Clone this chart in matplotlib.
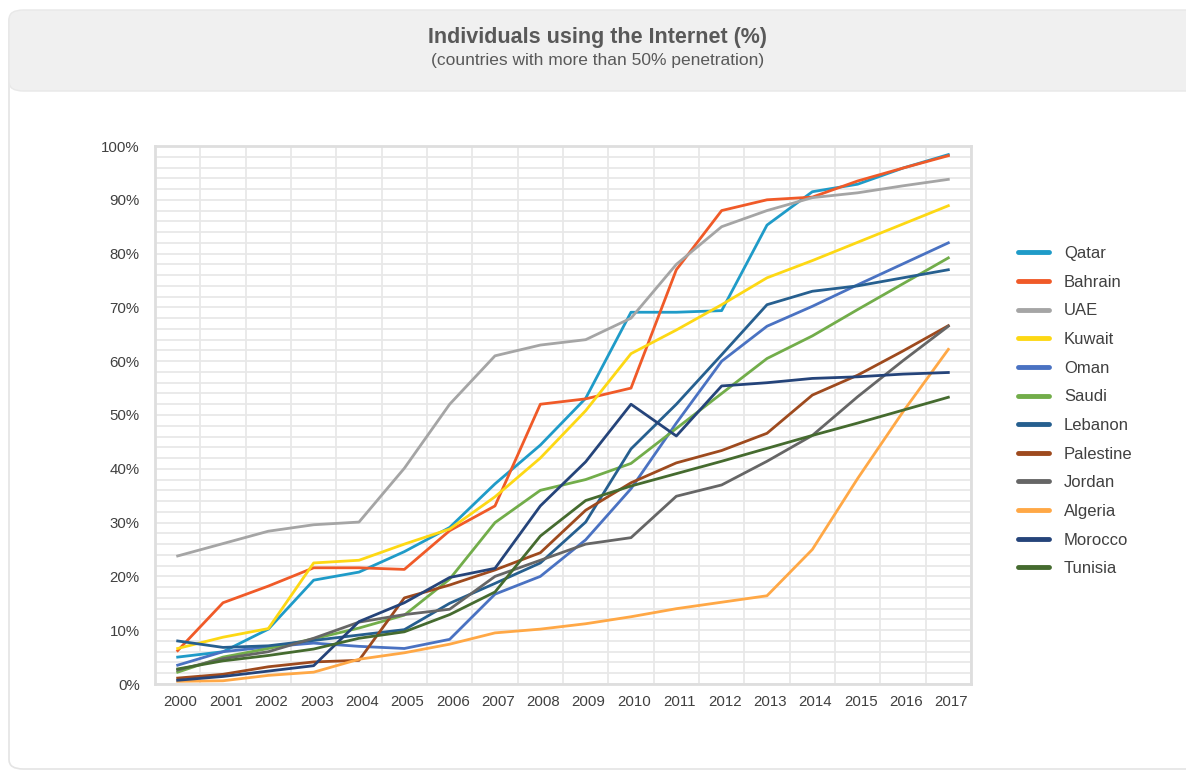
import numpy as np
import matplotlib
matplotlib.use("Agg")
import matplotlib.pyplot as plt
import matplotlib.transforms as mtransforms
from matplotlib.patches import FancyBboxPatch
from matplotlib.ticker import MultipleLocator, FuncFormatter

plt.rcParams['font.family'] = ['Liberation Sans', 'DejaVu Sans']

years = list(range(2000, 2018))

countries = ['Qatar', 'Bahrain', 'UAE', 'Kuwait', 'Oman', 'Saudi', 'Lebanon',
             'Palestine', 'Jordan', 'Algeria', 'Morocco', 'Tunisia']
colors = ['#1f9bc8', '#f05a28', '#a5a5a5', '#fdd814', '#4a72c2', '#72ad4a',
          '#265f8f', '#9e4a1e', '#666666', '#ffa846', '#25447a', '#456b2f']

qatar = [5.0, 6.0, 10.2, 19.3, 20.8, 24.6, 29.1, 37.2, 44.4, 53.1, 69.1, 69.1, 69.4, 85.3, 91.5, 92.9, 95.9, 98.4]
bahrain = [6.2, 15.1, 18.2, 21.6, 21.6, 21.3, 28.5, 33.1, 52.0, 53.0, 55.0, 77.0, 88.0, 90.0, 90.5, 93.5, 95.9, 98.2]
uae = [23.8, 26.1, 28.4, 29.6, 30.1, 40.1, 52.0, 61.0, 63.0, 64.0, 68.0, 78.0, 85.0, 88.0, 90.4, 91.3, 92.6, 93.8]
kuwait = [6.6, 8.7, 10.3, 22.5, 23.0, 26.0, 28.8, 34.8, 42.0, 50.8, 61.4, 65.8, 70.5, 75.5, 78.7, 82.1, 85.5, 88.9]
oman = [3.5, 6.0, 6.9, 7.6, 7.0, 6.6, 8.3, 16.7, 20.0, 26.8, 36.3, 48.5, 60.0, 66.5, 70.2, 74.2, 78.1, 82.0]
saudi = [2.2, 5.0, 6.6, 8.4, 10.4, 12.8, 19.5, 30.0, 36.0, 38.0, 41.0, 47.5, 54.0, 60.5, 64.7, 69.6, 74.4, 79.2]
lebanon = [8.0, 6.8, 7.1, 8.1, 9.1, 10.1, 15.0, 18.7, 22.5, 30.1, 43.7, 52.0, 61.2, 70.5, 73.0, 74.0, 75.5, 77.0]
palestine = [1.1, 1.8, 3.2, 4.1, 4.4, 16.0, 18.4, 21.2, 24.4, 32.3, 37.4, 41.1, 43.4, 46.6, 53.7, 57.4, 61.9, 66.6]
jordan = [2.6, 4.7, 6.0, 8.5, 11.5, 12.9, 13.9, 20.0, 23.0, 26.0, 27.2, 34.9, 37.0, 41.4, 46.2, 53.4, 60.1, 66.5]
algeria = [0.5, 0.6, 1.6, 2.2, 4.6, 5.8, 7.4, 9.5, 10.2, 11.2, 12.5, 14.0, 15.2, 16.4, 25.0, 38.2, 50.6, 62.2]
morocco = [0.7, 1.4, 2.4, 3.4, 11.6, 15.1, 19.8, 21.5, 33.1, 41.3, 52.0, 46.1, 55.4, 56.0, 56.8, 57.1, 57.6, 57.9]
tunisia = [2.8, 4.3, 5.3, 6.5, 8.5, 9.7, 12.9, 17.1, 27.5, 34.1, 36.8, 39.1, 41.4, 43.8, 46.2, 48.5, 50.9, 53.3]

series = [qatar, bahrain, uae, kuwait, oman, saudi, lebanon,
          palestine, jordan, algeria, morocco, tunisia]

fig = plt.figure(figsize=(11.86, 7.71), dpi=100)

# card outline and grey title band (behind the axes)
W, H = 1186, 771
card = FancyBboxPatch((9 / W, 2 / H), 1.2, (759 - 2) / H,
                      boxstyle="round,pad=0,rounding_size=0.012",
                      transform=fig.transFigure, facecolor='white',
                      edgecolor='#e4e4e4', linewidth=1.2, zorder=-2)
fig.patches.append(card)
band = FancyBboxPatch((9 / W, 1 - 91 / H), 1.2, 81 / H,
                      boxstyle="round,pad=0,rounding_size=0.012",
                      transform=fig.transFigure, facecolor='#f0f0f0',
                      edgecolor='#e8e8e8', linewidth=1.0, zorder=-1)
fig.patches.append(band)

fig.text(598 / W, 1 - 38 / H, 'Individuals using the Internet (%)', ha='center', va='center',
         fontsize=15.5, fontweight='bold', color='#595959')
fig.text(598 / W, 1 - 61 / H, '(countries with more than 50% penetration)', ha='center', va='center',
         fontsize=12.5, color='#595959')

ax = fig.add_axes([155 / W, 1 - 684 / H, (971 - 155) / W, (684 - 146) / H])
ax.set_zorder(2)
ax.patch.set_facecolor('white')

for name, vals, c in zip(countries, series, colors):
    ax.plot(years, vals, color=c, linewidth=2.0, label=name)

ax.set_xlim(1999.5, 2017.5)
ax.set_ylim(0, 100)
ax.set_xticks(years)
ax.set_xticklabels([str(y) for y in years])
ax.xaxis.set_minor_locator(MultipleLocator(1, offset=0.5))
ax.yaxis.set_major_locator(MultipleLocator(10))
ax.yaxis.set_minor_locator(MultipleLocator(2))
ax.yaxis.set_major_formatter(FuncFormatter(lambda v, p: f'{v:.0f}%'))

ax.grid(True, which='minor', axis='x', color='#e8e8e8', linewidth=1.3)
ax.grid(True, which='both', axis='y', color='#e8e8e8', linewidth=1.3)
ax.set_axisbelow(True)

ax.tick_params(axis='both', which='both', length=0, labelsize=10.8, colors='#404040')
ax.tick_params(axis='y', pad=11)
ax.tick_params(axis='x', pad=8)
shift = mtransforms.ScaledTranslation(3 / 100, 0, fig.dpi_scale_trans)
for lab in ax.get_xticklabels():
    lab.set_transform(lab.get_transform() + shift)
for s in ax.spines.values():
    s.set_color('#dedede')
    s.set_linewidth(2)

leg = fig.legend(loc='upper left', bbox_to_anchor=(1003 / W, 1 - 231 / H), frameon=False,
                 fontsize=12, handlelength=1.85, handletextpad=0.9, labelspacing=0.82)
for t in leg.get_texts():
    t.set_color('#404040')
for l in leg.get_lines():
    l.set_linewidth(3.5)
    l.set_solid_capstyle('round')

fig.savefig('out.png', dpi=100)
